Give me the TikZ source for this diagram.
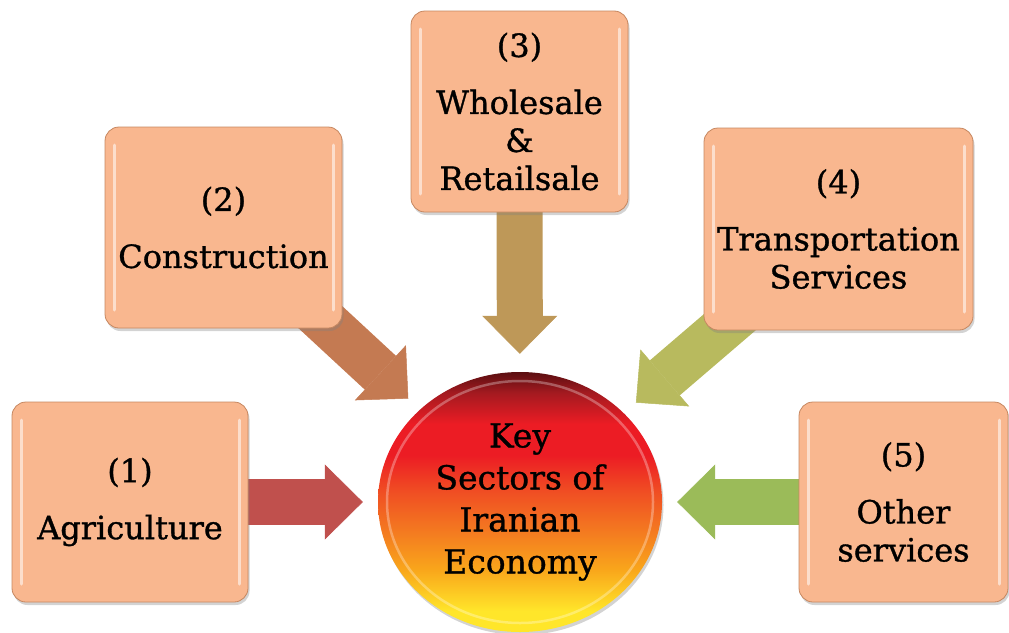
\documentclass[tikz,border=0pt]{standalone}
\usepackage{fontspec}
\setmainfont{DejaVu Serif}[FakeBold=1]
\usetikzlibrary{arrows.meta, positioning, shapes.geometric, shadows, backgrounds}
\definecolor{peach}{HTML}{F9B78F}
\definecolor{peachedge}{HTML}{C68760}
\definecolor{agrired}{HTML}{C0504D}
\definecolor{buildbrown}{HTML}{C47A52}
\definecolor{tradetan}{HTML}{BE9858}
\definecolor{transolive}{HTML}{B8BA5E}
\definecolor{servgreen}{HTML}{9BBB59}
\definecolor{hubyellow}{HTML}{FFE62A}
\definecolor{hubamber}{HTML}{F9A61B}
\definecolor{huborange}{HTML}{F47C20}
\definecolor{hubvermil}{HTML}{F04E23}
\definecolor{hubred}{HTML}{EC1C24}
\definecolor{hubcrimson}{HTML}{A41A20}
\definecolor{hubmaroon}{HTML}{5A0E10}

\pgfdeclareverticalshading{hubshade}{100bp}{color(0bp)=(hubyellow); color(29bp)=(hubyellow);
  color(37bp)=(hubamber); color(44bp)=(huborange); color(52bp)=(hubvermil); color(59bp)=(hubred);
  color(65bp)=(hubred); color(71bp)=(hubcrimson); color(75bp)=(hubmaroon); color(100bp)=(hubmaroon)}

\begin{document}
\begin{tikzpicture}[x=1pt, y=-1pt,
    sector/.style={rectangle, rounded corners=14pt, draw=peachedge, line width=0.8pt, fill=peach,
      align=center, inner sep=0pt, font=\fontsize{32}{38}\selectfont,
      drop shadow={shadow xshift=1.5pt, shadow yshift=-3pt, opacity=0.35},
      path picture={
        \draw[white, opacity=0.55, line width=3pt, line cap=round]
          ([xshift=9pt, yshift=-18pt]path picture bounding box.north west) -- ([xshift=9pt, yshift=18pt]path picture bounding box.south west)
          ([xshift=-9pt, yshift=-18pt]path picture bounding box.north east) -- ([xshift=-9pt, yshift=18pt]path picture bounding box.south east);
      }},
    hubnode/.style={ellipse, minimum width=284pt, minimum height=260pt, inner sep=0pt, shading=hubshade,
      align=center, font=\fontsize{33}{42}\selectfont,
      drop shadow={shadow xshift=1.5pt, shadow yshift=-3pt, opacity=0.35},
      path picture={
        \draw[white, opacity=0.3, line width=2.5pt]
          (path picture bounding box.center) ellipse [x radius=133pt, y radius=121pt];
      }},
    flow/.style={line width=46pt, -{Triangle[length=38pt, width=75pt, line width=0.5pt]}, shorten >=15pt},
  ]
  \useasboundingbox (0,0) rectangle (1009,632);

  % centre
  \node[hubnode] (hub) at (520,502) {Key\\Sectors of\\Iranian\\Economy};

  % the five sectors
  \node[sector, minimum width=236pt, minimum height=200pt] (agri) at (130,502) {(1)\\[19pt]Agriculture};
  \node[sector, minimum width=237pt, minimum height=201pt] (build) at (223.5,227.5) {(2)\\[19pt]Construction};
  \node[sector, minimum width=217pt, minimum height=201pt] (trade) at (519.5,111.5) {(3)\\[19pt]Wholesale\\\&\\Retailsale};
  \node[sector, minimum width=269pt, minimum height=202pt] (transp) at (838.5,229) {(4)\\[19pt]Transportation\\Services};
  \node[sector, minimum width=209pt, minimum height=200pt] (other) at (903.5,502) {(5)\\[19pt]Other\\services};

  % block arrows into the centre
  \begin{scope}[on background layer]
    \draw[flow, agrired] (agri.center) -- (hub);
    \draw[flow, buildbrown, shorten >=16pt] (build.center) -- (hub);
    \draw[flow, tradetan, shorten >=18pt] (trade.center) -- (hub);
    \draw[flow, transolive, shorten >=16pt] (transp.center) -- (hub);
    \draw[flow, servgreen] (other.center) -- (hub);
  \end{scope}
\end{tikzpicture}
\end{document}
